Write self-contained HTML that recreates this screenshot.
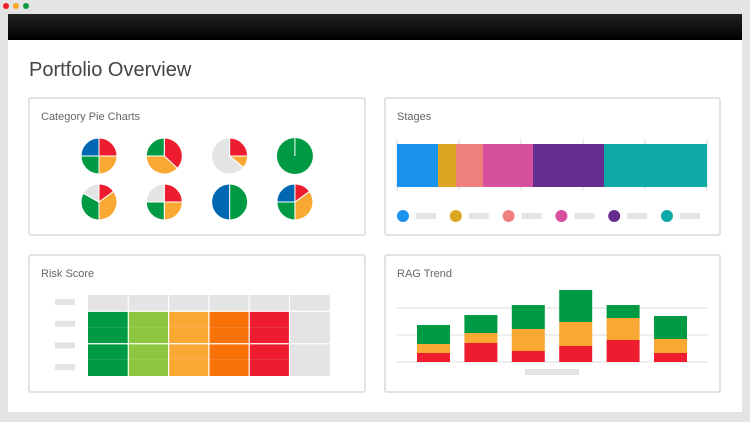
<!DOCTYPE html>
<html><head><meta charset="utf-8"><style>
body{margin:0;width:750px;height:422px;background:#e4e4e4;font-family:"Liberation Sans",sans-serif;overflow:hidden;position:relative}
.dot{position:absolute;top:3px;width:6px;height:6px;border-radius:50%}
.panel{position:absolute;background:#fff;border:2px solid #e2e2e2;border-radius:3px;box-sizing:border-box}
.ptitle{position:absolute;left:11px;top:12px;font-size:11px;color:#666}
svg{position:absolute;left:0;top:0}
</style></head><body>
<div class="dot" style="left:3px;background:#ee1c25"></div>
<div class="dot" style="left:13px;background:#f9a825"></div>
<div class="dot" style="left:23px;background:#0a9a44"></div>
<div style="position:absolute;left:8px;top:14px;width:734px;height:26px;background:linear-gradient(#222,#000)"></div>
<div style="position:absolute;left:8px;top:40px;width:734px;height:372px;background:#fff"></div>
<div style="position:absolute;left:29px;top:59px;font-size:20px;font-weight:300;color:#444">Portfolio Overview</div>
<div class="panel" style="left:28px;top:97px;width:338px;height:139px"><div class="ptitle">Category Pie Charts</div></div>
<div class="panel" style="left:384px;top:97px;width:337px;height:139px"><div class="ptitle">Stages</div></div>
<div class="panel" style="left:28px;top:254px;width:338px;height:139px"><div class="ptitle">Risk Score</div></div>
<div class="panel" style="left:384px;top:254px;width:337px;height:139px"><div class="ptitle">RAG Trend</div></div>
<svg id="s" width="750" height="422"></svg>
<script>
const C={g:'#009a44',r:'#ed1c2e',o:'#f9a833',b:'#0068b3',x:'#e4e4e4',lg:'#8dc63f',do:'#f7730a'};
const pieColors=[['r','o','g','b'],['r','o','g'],['r','o','x'],['g'],['r','o','g','x'],['r','o','g','x'],['g','b'],['r','o','g','b']];
const pieValues=[[25,25,25,25],[37,38,25],[25,11,64],[100],[15,35,33,17],[25,25,25,25],[50,50],[15,35,25,25]];
const stageValues=[41,18,27,50,71,103];
const stageColors=['#1a93ee','#dba623','#f08080','#d6509e','#662d91','#0fa9a8'];
const riskCols=['#009a44','#8dc63f','#f9a833','#f7730a','#ed1c2e','#e4e4e4'];
const riskRows=4;
const ragRed=[9,19,11,16,22,9];
const ragOrange=[9,10,22,24,22,14];
const ragGreen=[19,18,24,32,13,23];
const ragTicks=[0,27,54];
const s=document.getElementById('s');const NS='http://www.w3.org/2000/svg';
function el(t,a){const e=document.createElementNS(NS,t);for(const k in a)e.setAttribute(k,a[k]);s.appendChild(e);return e;}
// pies
pieValues.forEach((vals,i)=>{
 const cx=99+(i%4)*65.3,cy=156+Math.floor(i/4)*46,R=18;
 let tot=vals.reduce((a,b)=>a+b,0),a0=0;
 vals.forEach((v,j)=>{
  const a1=a0+v/tot*2*Math.PI;let e;
  if(v>=tot){e=el('circle',{cx:cx,cy:cy,r:R,fill:C[pieColors[i][j]]});
   el('line',{x1:cx,y1:cy-R,x2:cx,y2:cy,stroke:'#fff','stroke-width':1});}
  else{const x0=cx+R*Math.sin(a0),y0=cy-R*Math.cos(a0),x1=cx+R*Math.sin(a1),y1=cy-R*Math.cos(a1);
   e=el('path',{d:`M${cx},${cy}L${x0},${y0}A${R},${R} 0 ${a1-a0>Math.PI?1:0} 1 ${x1},${y1}Z`,fill:C[pieColors[i][j]],stroke:'#fff','stroke-width':1});}
  
  
  a0=a1;});
});
// stages
const sx=397,sw=310,stot=stageValues.reduce((a,b)=>a+b,0);
for(let k=0;k<6;k++)el('line',{x1:sx+k*sw/5,x2:sx+k*sw/5,y1:139,y2:191,stroke:'#ddd','stroke-width':1});
let acc=0;
stageValues.forEach((v,i)=>{
 const r=el('rect',{x:sx+acc/stot*sw,y:144,width:v/stot*sw,height:43,fill:stageColors[i]});
 
 
 acc+=v;
 const lx=403+i*52.8;
 const d=el('circle',{cx:lx,cy:216,r:6,fill:stageColors[i]});
 
 
 el('rect',{x:lx+13,y:213,width:20,height:6,fill:'#e4e4e4'});
});
// risk
const gx=88,gy=295,cw=40.3,rh=[16,16,16,16,17];
el('rect',{x:gx,y:gy,width:cw*6,height:81,fill:'#e4e4e4'});
for(let r=0;r<riskRows;r++){
 const lb=el('rect',{x:55,y:299+r*21.7,width:20,height:6,fill:'#e4e4e4'});
 
 
 riskCols.forEach((c,ci)=>{
  const e=el('rect',{x:gx+ci*cw,y:gy+16+r*16.25,width:cw,height:16.25,fill:c});
  
  
 });
}
for(let ci=1;ci<6;ci++)el('line',{x1:gx+ci*cw,x2:gx+ci*cw,y1:gy,y2:gy+81,stroke:'#fff','stroke-width':1.2});
[1,3].forEach(r=>el('line',{x1:gx,x2:gx+cw*6,y1:gy+r*16.25+(r>1?0:0),y2:gy+r*16.25,stroke:'#fff','stroke-width':1.2}));
// rag
const base=362,bx=417,bstep=47.4,bw=33;
function ry(v){return base-v;}
ragTicks.forEach(t=>el('line',{x1:397,x2:708,y1:ry(t),y2:ry(t),stroke:'#ddd','stroke-width':1}));
ragRed.forEach((rv,i)=>{
 const x=bx+i*bstep;let b=0;
 [[rv,C.r,'red'],[ragOrange[i],C.o,'amber'],[ragGreen[i],C.g,'green']].forEach(([v,c,n])=>{
  const e=el('rect',{x:x,y:ry(b+v),width:bw,height:v,fill:c});
  
  
  b+=v;});
});
el('rect',{x:525,y:369,width:54,height:6,fill:'#e4e4e4'});
</script>
</body></html>
